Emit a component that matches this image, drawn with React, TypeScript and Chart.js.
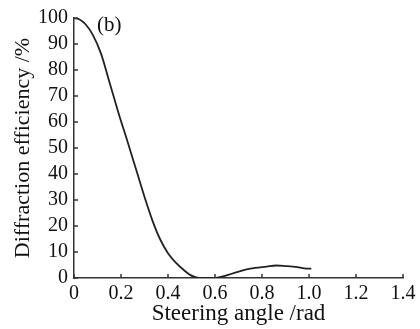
import React, { useEffect, useRef } from "react";
import { Chart, registerables } from "chart.js";
Chart.register(...registerables);

const angleRad = [0, 0.02, 0.05, 0.08, 0.115, 0.15, 0.189, 0.228, 0.265, 0.306, 0.335, 0.366, 0.4, 0.43, 0.472, 0.494, 0.52, 0.55, 0.6, 0.63, 0.68, 0.75, 0.82, 0.86, 0.9, 0.95, 0.98, 1.01];
const efficiency = [100, 99.6, 97.5, 93.5, 86.3, 75.6, 63.6, 52.4, 41.5, 29.5, 21.8, 15.0, 9.5, 6.2, 2.7, 1.2, 0.2, 0, 0, 0.5, 1.9, 3.6, 4.4, 4.8, 4.6, 4.2, 3.7, 3.6];
const xTicks = [0, 0.2, 0.4, 0.6, 0.8, 1.0, 1.2, 1.4];
const xTickLabels = ["0", "0.2", "0.4", "0.6", "0.8", "1.0", "1.2", "1.4"];
const yTicks = [0, 10, 20, 30, 40, 50, 60, 70, 80, 90, 100];
const panelLabel = "(b)";
const xTitle = "Steering angle /rad";
const yTitle = "Diffraction efficiency /%";

const FONT = "'Liberation Serif', 'DejaVu Serif', serif";

const innerTicks = {
  id: "innerTicks",
  afterDraw(chart: any) {
    const { ctx, chartArea, scales } = chart;
    ctx.save();
    ctx.strokeStyle = "#333";
    ctx.lineWidth = 1.5;
    ctx.beginPath();
    xTicks.forEach((v) => {
      const px = scales.x.getPixelForValue(v);
      ctx.moveTo(px, chartArea.bottom);
      ctx.lineTo(px, chartArea.bottom - 4);
    });
    yTicks.forEach((v) => {
      const py = scales.y.getPixelForValue(v);
      ctx.moveTo(chartArea.left, py);
      ctx.lineTo(chartArea.left + 4, py);
    });
    ctx.stroke();
    ctx.fillStyle = "#111";
    ctx.font = `21px ${FONT}`;
    ctx.textBaseline = "top";
    ctx.fillText(panelLabel, chartArea.left + 23, chartArea.top - 3);
    ctx.restore();
  },
};

export default function App() {
  const ref = useRef<HTMLCanvasElement>(null);
  useEffect(() => {
    const chart = new Chart(ref.current!, {
      type: "line",
      data: {
        datasets: [
          {
            data: angleRad.map((x, i) => ({ x, y: efficiency[i] })),
            borderColor: "#222",
            borderWidth: 1.8,
            pointRadius: 0,
            cubicInterpolationMode: "monotone",
            fill: false,
          },
        ],
      },
      options: {
        animation: false,
        responsive: false,
        maintainAspectRatio: false,
        layout: { padding: { top: 12, right: 17, left: 10, bottom: 0 } },
        plugins: { legend: { display: false }, tooltip: { enabled: false } },
        scales: {
          x: {
            type: "linear",
            min: 0,
            max: 1.4,
            afterBuildTicks: (s: any) => {
              s.ticks = xTicks.map((v) => ({ value: v }));
            },
            afterFit: (s: any) => {
              s.height = 51;
            },
            grid: { display: false, drawTicks: false },
            border: { display: true, color: "#333", width: 1.5 },
            ticks: {
              color: "#111",
              font: { family: FONT, size: 20 },
              padding: 4,
              maxRotation: 0,
              autoSkip: false,
              callback: (v: any) => {
                const i = xTicks.findIndex((t) => Math.abs(t - v) < 1e-6);
                return i >= 0 ? xTickLabels[i] : "";
              },
            },
            title: {
              display: true,
              text: xTitle,
              color: "#111",
              font: { family: FONT, size: 23 },
              padding: { top: 0, bottom: 1 },
            },
          },
          y: {
            min: 0,
            max: 100,
            afterBuildTicks: (s: any) => {
              s.ticks = yTicks.map((v) => ({ value: v }));
            },
            afterFit: (s: any) => {
              s.width = 64;
            },
            grid: { display: false, drawTicks: false },
            border: { display: true, color: "#333", width: 1.5 },
            ticks: {
              color: "#111",
              font: { family: FONT, size: 20 },
              padding: 6,
              autoSkip: false,
            },
            title: {
              display: true,
              text: yTitle,
              color: "#111",
              font: { family: FONT, size: 22 },
              padding: { top: 0, bottom: 0 },
            },
          },
        },
      },
      plugins: [innerTicks],
    });
    return () => chart.destroy();
  }, []);
  return (
    <div style={{ position: "fixed", left: 0, top: 0, width: 420, height: 329, background: "#fff" }}>
      <canvas ref={ref} width={420} height={329} style={{ display: "block", width: 420, height: 329 }} />
    </div>
  );
}
